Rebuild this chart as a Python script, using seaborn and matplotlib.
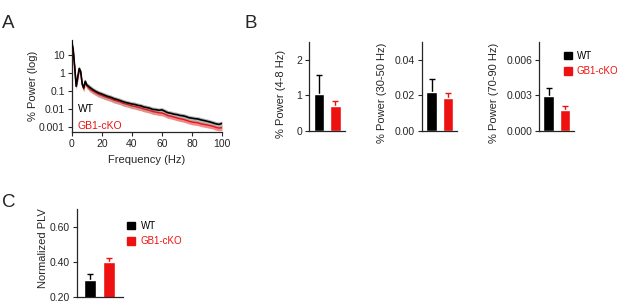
import numpy as np
import pandas as pd
import seaborn as sns
from matplotlib import pyplot as plt
from matplotlib.patches import Patch

# spectrum (panel A)
freq = [0, 1, 2, 3, 4, 5, 6, 7, 8, 9, 10,
        12, 14, 16, 18, 20, 22, 24, 26, 28, 30, 32, 34, 36, 38, 40,
        42, 44, 46, 48, 50, 52, 54, 56, 58, 60, 62, 64, 66, 68, 70,
        72, 74, 76, 78, 80, 82, 84, 86, 88, 90, 92, 94, 96, 98, 100]
wt_power = [55, 20, 2, 0.18, 0.6, 1.8, 1.2, 0.25, 0.15, 0.35, 0.22,
            0.16, 0.12, 0.095, 0.078, 0.068, 0.058, 0.05, 0.045, 0.038, 0.034, 0.030, 0.026, 0.023, 0.021, 0.019,
            0.018, 0.016, 0.015, 0.013, 0.012, 0.011, 0.0095, 0.0092, 0.0085, 0.0090, 0.0075, 0.0062, 0.0058, 0.0052, 0.0049,
            0.0044, 0.0042, 0.0038, 0.0033, 0.0031, 0.0029, 0.0028, 0.0025, 0.0023, 0.0021, 0.0019, 0.0017, 0.0015, 0.0014, 0.0016]
ko_power = [45, 18, 2.2, 0.2, 0.5, 1.6, 1.0, 0.22, 0.13, 0.3, 0.2,
            0.13, 0.1, 0.08, 0.065, 0.056, 0.048, 0.042, 0.037, 0.031, 0.028, 0.025, 0.021, 0.019, 0.017, 0.015,
            0.014, 0.0125, 0.0115, 0.010, 0.0092, 0.0083, 0.0072, 0.0068, 0.0062, 0.0060, 0.0052, 0.0043, 0.0040, 0.0036, 0.0032,
            0.0029, 0.0027, 0.0024, 0.0021, 0.0019, 0.0018, 0.0017, 0.0015, 0.0014, 0.0013, 0.0012, 0.0011, 0.00095, 0.00088, 0.00092]
wt_rel_sem = 0.35
ko_rel_sem = 0.3

groups = ['WT', 'GB1-cKO']
colors = ['black', '#ee1111']

# panel B
theta_mean = [1.03, 0.70]
theta_sem = [0.55, 0.15]
gamma_low_mean = [0.022, 0.0185]
gamma_low_sem = [0.007, 0.003]
gamma_high_mean = [0.00295, 0.00178]
gamma_high_sem = [0.00065, 0.00035]

# panel C
plv_mean = [0.297, 0.40]
plv_sem = [0.035, 0.022]

sns.set_style('ticks')
plt.rcParams['font.family'] = ['Liberation Sans', 'DejaVu Sans']
plt.rcParams['axes.linewidth'] = 0.9
plt.rcParams['xtick.major.size'] = 3
plt.rcParams['ytick.major.size'] = 3
plt.rcParams['xtick.major.width'] = 0.8
plt.rcParams['ytick.major.width'] = 0.8

W, H = 617, 303
fig = plt.figure(figsize=(W / 100, H / 100), dpi=100)


def px_axes(left, bottom, width, height):
    return fig.add_axes([left / W, (H - bottom) / H, width / W, height / H])


# ---- A: power spectrum
ax = px_axes(71.7, 132, 150.3, 92)
f = np.array(freq)
wt = np.array(wt_power)
ko = np.array(ko_power)
ax.fill_between(f, ko * (1 - ko_rel_sem), ko * (1 + ko_rel_sem), color='#f28a8a', lw=0, zorder=1)
ax.fill_between(f, wt * (1 - wt_rel_sem), wt * (1 + wt_rel_sem), color='#a8a8a8', lw=0, alpha=0.85, zorder=2)
sns.lineplot(x=f, y=ko, color='#ee1111', lw=1.0, ax=ax, zorder=3)
sns.lineplot(x=f, y=wt, color='black', lw=1.2, ax=ax, zorder=4)
ax.set_yscale('log')
ax.set_xlim(0, 100)
ax.set_ylim(5.3e-4, 68)
ax.set_yticks([10, 1, 0.1, 0.01, 0.001])
ax.set_yticklabels(['10', '1', '0.1', '0.01', '0.001'])
ax.minorticks_off()
ax.set_xticks([0, 20, 40, 60, 80, 100])
ax.tick_params(labelsize=7.5, pad=2)
ax.set_xlabel('Frequency (Hz)', fontsize=8, labelpad=4)
ax.set_ylabel('% Power (log)', fontsize=8)
ax.yaxis.set_label_coords(-0.225, 0.5)
ax.text(0.04, 0.25, 'WT', color='black', fontsize=7.5, transform=ax.transAxes, va='center')
ax.text(0.04, 0.065, 'GB1-cKO', color='#ee1111', fontsize=7.5, transform=ax.transAxes, va='center')
sns.despine(ax=ax)


def bar_panel(ax, means, sems, ylim, ticks, ticklabels, ylabel, label_x, label_y):
    df = pd.DataFrame({'group': groups, 'value': means})
    sns.barplot(data=df, x='group', y='value', hue='group', palette=colors,
                width=0.65, legend=False, ax=ax, zorder=2, saturation=1)
    for i, (m, s) in enumerate(zip(means, sems)):
        ax.vlines(i, m, m + s, color=colors[i], lw=1, zorder=1)
        ax.hlines(m + s, i - 0.17, i + 0.17, color=colors[i], lw=1, zorder=1)
    ax.set_ylim(*ylim)
    ax.set_yticks(ticks)
    ax.set_yticklabels(ticklabels)
    ax.set_xticks([])
    ax.set_xlabel('')
    ax.set_ylabel(ylabel, fontsize=8)
    ax.yaxis.set_label_coords(label_x, label_y)
    ax.tick_params(labelsize=7.5, pad=2)
    sns.despine(ax=ax)


# ---- B
ax1 = px_axes(309, 131, 36, 89)
bar_panel(ax1, theta_mean, theta_sem, (0, 2.5), [0, 1, 2], ['0', '1', '2'],
          '% Power (4-8 Hz)', -0.64, 0.42)
ax1.set_xlim(-0.6, 1.6)

ax2 = px_axes(422, 131, 35, 89)
bar_panel(ax2, gamma_low_mean, gamma_low_sem, (0, 0.05), [0, 0.02, 0.04], ['0.00', '0.02', '0.04'],
          '% Power (30-50 Hz)', -1.0, 0.43)
ax2.set_xlim(-0.6, 1.55)

ax3 = px_axes(539, 131, 35, 89)
bar_panel(ax3, gamma_high_mean, gamma_high_sem, (0, 0.0075), [0, 0.003, 0.006], ['0.000', '0.003', '0.006'],
          '% Power (70-90 Hz)', -1.14, 0.43)
ax3.set_xlim(-0.6, 1.55)

handles = [Patch(color=colors[0], label=groups[0]), Patch(color=colors[1], label=groups[1])]
fig.legend(handles=handles, loc='upper left', bbox_to_anchor=(560 / W, 1 - 47 / H),
           frameon=False, fontsize=7, handlelength=0.8, handleheight=0.8,
           handletextpad=0.5, labelspacing=0.55, labelcolor=colors, borderaxespad=0)

# ---- C
axc = px_axes(77, 297, 46, 88)
bar_panel(axc, plv_mean, plv_sem, (0.2, 0.7), [0.2, 0.4, 0.6], ['0.20', '0.40', '0.60'],
          'Normalized PLV', -0.62, 0.55)
axc.set_xlim(-0.68, 1.74)
fig.legend(handles=handles, loc='upper left', bbox_to_anchor=(123 / W, 1 - 217 / H),
           frameon=False, fontsize=7, handlelength=0.8, handleheight=0.8,
           handletextpad=0.6, labelspacing=0.55, labelcolor=colors, borderaxespad=0)

# panel letters
fig.text(2 / W, 1 - 28 / H, 'A', fontsize=13.5)
fig.text(245 / W, 1 - 28 / H, 'B', fontsize=13.5)
fig.text(2 / W, 1 - 207 / H, 'C', fontsize=13.5)

fig.savefig('out.png', dpi=100)
